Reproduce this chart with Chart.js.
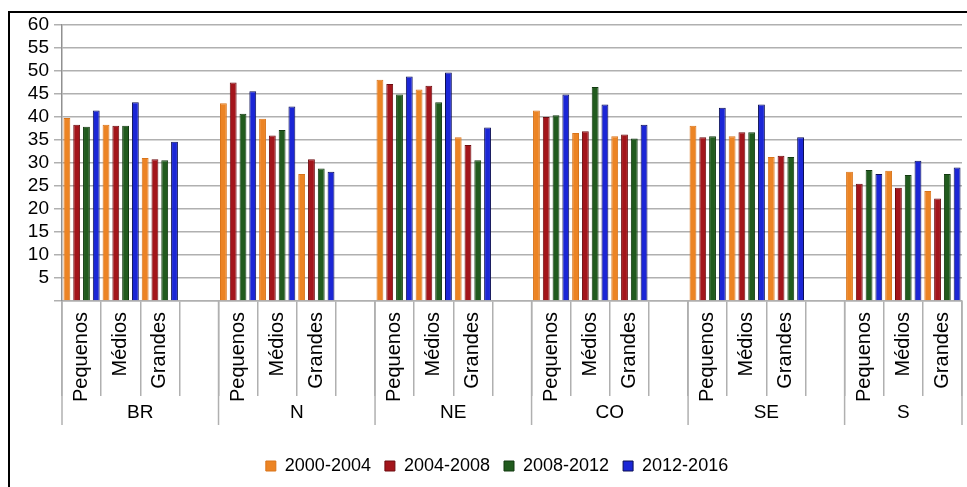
<!DOCTYPE html>
<html>
<head>
<meta charset="utf-8">
<script src="https://cdn.jsdelivr.net/npm/chart.js@4"></script>
<style>
  html, body { margin: 0; padding: 0; background: #fff; }
  canvas { display: block; }
</style>
</head>
<body>
<canvas id="chart" width="967" height="487"></canvas>
<script>
const regions = ['BR', 'N', 'NE', 'CO', 'SE', 'S'];
const sizes = ['Pequenos', 'Médios', 'Grandes'];
const seriesNames = ['2000-2004', '2004-2008', '2008-2012', '2012-2016'];

// values by region, in order Pequenos, Médios, Grandes
const s2000 = [39.8, 38.3, 31.1, 43.0, 39.6, 27.6, 48.1, 46.0, 35.6, 41.4, 36.5, 35.8, 38.1, 35.8, 31.3, 28.1, 28.3, 23.9];
const s2004 = [38.3, 38.1, 30.8, 47.5, 36.0, 30.8, 47.2, 46.8, 33.9, 40.0, 36.9, 36.2, 35.6, 36.7, 31.6, 25.5, 24.6, 22.3];
const s2008 = [37.9, 38.1, 30.6, 40.7, 37.2, 28.8, 44.9, 43.2, 30.6, 40.4, 46.5, 35.3, 35.8, 36.7, 31.3, 28.5, 27.4, 27.6];
const s2012 = [41.4, 43.2, 34.6, 45.6, 42.3, 28.1, 48.8, 49.7, 37.7, 44.9, 42.7, 38.3, 42.0, 42.7, 35.6, 27.6, 30.5, 29.0];

const fills = ['#ec8424', '#a3151b', '#215b1e', '#1b26d6'];
const borders = ['#d9741a', '#6e0c10', '#123a10', '#0b0f55'];

// build category labels with an empty gap column between regions
const labels = [];
regions.forEach((r, i) => {
    sizes.forEach(s => labels.push(s));
    if (i < regions.length - 1) labels.push('');
});

function spread(values) {
    const out = [];
    regions.forEach((r, i) => {
        for (let k = 0; k < sizes.length; k++) out.push(values[i * sizes.length + k]);
        if (i < regions.length - 1) out.push(null);
    });
    return out;
}

const FAMILY = '"Liberation Sans", Arial, sans-serif';
const FONT = { family: FAMILY, size: 18 };

const regionAxis = {
    id: 'regionAxis',
    afterLayout(chart) {
        // legend sits a little right of centre in the original
        chart.legend.left += 16;
        chart.legend.right += 16;
    },
    beforeDraw(chart) {
        const ctx = chart.ctx;
        ctx.save();
        ctx.fillStyle = '#fff';
        ctx.fillRect(0, 0, chart.width, chart.height);
        ctx.strokeStyle = '#000';
        ctx.lineWidth = 2;
        ctx.strokeRect(9, 12, 1200, 1200);
        ctx.restore();
    },
    afterDraw(chart) {
        const x = chart.scales.x;
        const ctx = chart.ctx;
        const colW = x.getPixelForTick(1) - x.getPixelForTick(0);
        const top = chart.chartArea.bottom;
        ctx.save();
        ctx.strokeStyle = '#b0b0b0';
        ctx.lineWidth = 1.5;
        ctx.fillStyle = '#000';
        ctx.font = '19px ' + FAMILY;
        ctx.textAlign = 'center';
        ctx.textBaseline = 'middle';
        let idx = 0;
        regions.forEach((r, i) => {
            const count = i < regions.length - 1 ? sizes.length + 1 : sizes.length;
            const left = x.getPixelForTick(idx) - colW / 2;
            const right = left + count * colW;
            ctx.beginPath();
            ctx.moveTo(left, top);
            ctx.lineTo(left, top + 124);
            if (i === regions.length - 1) {
                ctx.moveTo(right, top);
                ctx.lineTo(right, top + 124);
            }
            ctx.stroke();
            ctx.fillText(r, (left + right) / 2, top + 112);
            idx += count;
        });
        ctx.restore();
    }
};

const datasets = [s2000, s2004, s2008, s2012].map((vals, i) => ({
    label: seriesNames[i],
    data: spread(vals),
    backgroundColor: fills[i],
    borderColor: borders[i],
    borderWidth: 1,
    categoryPercentage: 1.0,
    barPercentage: 0.7
}));

new Chart(document.getElementById('chart').getContext('2d'), {
    type: 'bar',
    data: { labels: labels, datasets: datasets },
    options: {
        responsive: false,
        animation: false,
        devicePixelRatio: 1,
        layout: { padding: { top: 25, right: 5, left: 0, bottom: 2 } },
        plugins: {
            legend: {
                position: 'bottom',
                labels: {
                    boxWidth: 10,
                    boxHeight: 10,
                    padding: 14,
                    color: '#000',
                    font: FONT
                }
            },
            tooltip: { enabled: false }
        },
        scales: {
            x: {
                offset: true,
                grid: {
                    offset: true,
                    drawOnChartArea: false,
                    tickLength: 95,
                    color: '#b0b0b0',
                    lineWidth: 1.5
                },
                border: { color: '#b0b0b0', width: 1.5 },
                ticks: {
                    autoSkip: false,
                    minRotation: 90,
                    maxRotation: 90,
                    padding: -84,
                    color: '#000',
                    font: { family: FAMILY, size: 20 }
                },
                afterFit(scale) { scale.height = 142; }
            },
            y: {
                min: 0,
                max: 60,
                ticks: {
                    stepSize: 5,
                    autoSkip: false,
                    padding: 5,
                    color: '#000',
                    font: { family: FAMILY, size: 19 },
                    callback: v => v === 0 ? '' : v
                },
                grid: { color: '#b0b0b0', lineWidth: 1.5, tickLength: 8 },
                border: { color: '#909090', width: 1.5 },
                afterFit(scale) { scale.width = 62; }
            }
        }
    },
    plugins: [regionAxis]
});
</script>
</body>
</html>
